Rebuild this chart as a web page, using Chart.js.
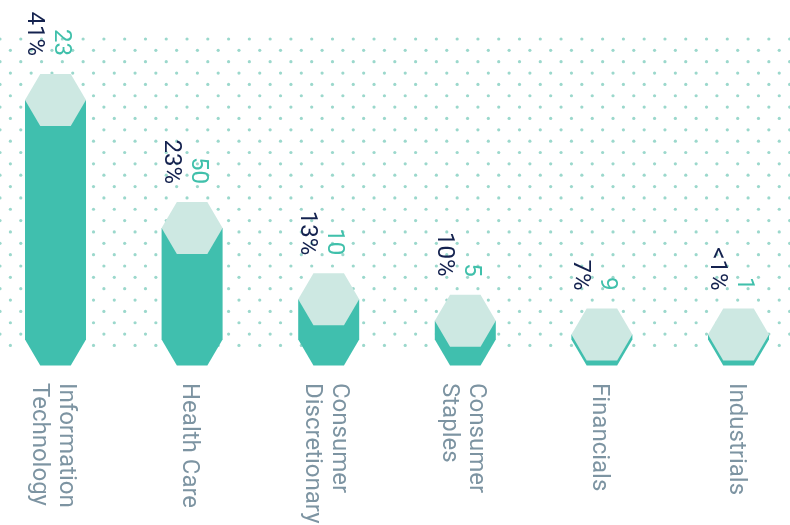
<!DOCTYPE html>
<html>
<head>
<meta charset="utf-8">
<script src="https://cdn.jsdelivr.net/npm/chart.js@4.4.1/dist/chart.umd.min.js"></script>
<style>
    html, body { margin: 0; padding: 0; background: #ffffff; }
    #wrap { width: 790px; height: 525px; }
</style>
</head>
<body>
<div id="wrap"><canvas id="sectorChart" width="790" height="525"></canvas></div>
<script>
// -----------------------------
// Data
// -----------------------------
const sectors = [
    ['Information', 'Technology'],
    ['Health Care'],
    ['Consumer', 'Discretionary'],
    ['Consumer', 'Staples'],
    ['Financials'],
    ['Industrials']
];
const weights = [41, 23, 13, 10, 7, 0.5];
const weightLabels = ['41%', '23%', '13%', '10%', '7%', '<1%'];
const holdings = [23, 50, 10, 5, 9, 1];

// axis floor: bars start here
const axisFloor = 7.35;
const axisTop = 45;

// -----------------------------
// Colours
// -----------------------------
const barColor = '#40bfae';
const capColor = '#cde8e2';
const dotColor = '#9bd8cc';
const pctColor = '#14224f';
const countColor = '#40c0ab';
const labelColor = '#7d94a2';

// -----------------------------
// Dotted background
// -----------------------------
const dotGrid = {
    id: 'dotGrid',
    beforeDatasetsDraw(chart) {
        const ctx = chart.ctx;
        ctx.save();
        ctx.fillStyle = dotColor;
        for (let k = 0; k < 28; k++) {
            const y = 39 + k * 11.35;
            const start = (k % 2) ? 10.39 : 0;
            for (let x = start; x <= chart.width + 2; x += 20.78) {
                ctx.beginPath();
                ctx.arc(x, y, 1.6, 0, Math.PI * 2);
                ctx.fill();
            }
        }
        ctx.restore();
    }
};

// -----------------------------
// Hexagon bars + labels
// -----------------------------
const hexBars = {
    id: 'hexBars',
    afterDatasetsDraw(chart) {
        const ctx = chart.ctx;
        const meta = chart.getDatasetMeta(0);
        ctx.save();
        meta.data.forEach((bar, i) => {
            const cx = bar.x;
            const base = bar.base;
            const top = Math.min(bar.y, base - 5);
            const w = bar.width / 2;
            const hh = 26;

            // body with chamfered foot
            ctx.fillStyle = barColor;
            ctx.beginPath();
            ctx.moveTo(cx - w, top);
            ctx.lineTo(cx + w, top);
            ctx.lineTo(cx + w, base);
            ctx.lineTo(cx + w / 2, base + hh);
            ctx.lineTo(cx - w / 2, base + hh);
            ctx.lineTo(cx - w, base);
            ctx.closePath();
            ctx.fill();

            // light hexagon cap
            ctx.fillStyle = capColor;
            ctx.beginPath();
            ctx.moveTo(cx - w, top);
            ctx.lineTo(cx - w / 2, top - hh);
            ctx.lineTo(cx + w / 2, top - hh);
            ctx.lineTo(cx + w, top);
            ctx.lineTo(cx + w / 2, top + hh);
            ctx.lineTo(cx - w / 2, top + hh);
            ctx.closePath();
            ctx.fill();

            // value labels, turned to read downwards
            ctx.save();
            ctx.translate(cx, top - 44);
            ctx.rotate(Math.PI / 2);
            ctx.textAlign = 'right';
            ctx.textBaseline = 'alphabetic';
            ctx.font = '24px Roboto, "Liberation Sans", sans-serif';
            ctx.fillStyle = pctColor;
            ctx.fillText(weightLabels[i], 0, 27.5);
            ctx.fillStyle = countColor;
            ctx.fillText(String(holdings[i]), 0, 0.5);
            ctx.restore();
        });

        // category labels under the bars
        const xScale = chart.scales.x;
        ctx.font = '24px Roboto, "Liberation Sans", sans-serif';
        ctx.fillStyle = labelColor;
        sectors.forEach((lines, i) => {
            const cx = xScale.getPixelForValue(i);
            ctx.save();
            ctx.translate(cx, 383);
            ctx.rotate(Math.PI / 2);
            ctx.textAlign = 'left';
            ctx.textBaseline = 'alphabetic';
            const lh = 27;
            const first = 9 - (lines.length - 1) * lh / 2;
            lines.forEach((line, j) => ctx.fillText(line, 0, first + j * lh));
            ctx.restore();
        });
        ctx.restore();
    }
};

// -----------------------------
// Chart
// -----------------------------
const ctx = document.getElementById('sectorChart').getContext('2d');
const sectorChart = new Chart(ctx, {
    type: 'bar',
    data: {
        labels: sectors.map(s => s.join(' ')),
        datasets: [{
            data: weights,
            base: axisFloor,
            backgroundColor: 'rgba(0,0,0,0)',
            borderWidth: 0,
            barThickness: 61
        }]
    },
    options: {
        responsive: false,
        animation: false,
        layout: { padding: { left: 55.5, right: 51.5, top: 71.5, bottom: 185.5 } },
        plugins: { legend: { display: false }, tooltip: { enabled: false } },
        scales: {
            x: { display: false, offset: false, grid: { display: false } },
            y: { display: false, min: axisFloor, max: axisTop, grid: { display: false } }
        }
    },
    plugins: [dotGrid, hexBars]
});
</script>
</body>
</html>
